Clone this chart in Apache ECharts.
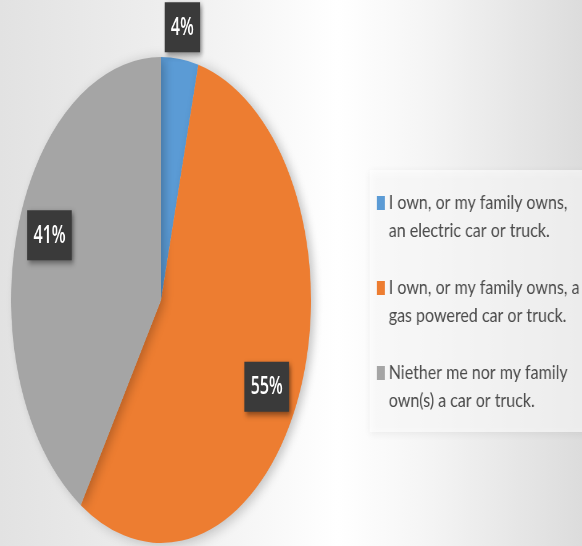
<!DOCTYPE html>
<html>
<head>
<meta charset="utf-8">
<script src="https://cdn.jsdelivr.net/npm/echarts@6/dist/echarts.min.js"></script>
<style>
  html, body { margin: 0; padding: 0; width: 582px; height: 546px; overflow: hidden; }
  body {
    background: linear-gradient(90deg, #e2e2e2 0%, #efefef 30%, #ffffff 58%, #f6f6f6 72%, #dcdcdc 100%);
    position: relative;
  }
  /* the pie is drawn round and then squeezed horizontally into an ellipse */
  #pie { position: absolute; left: 0; top: 0; width: 943px; height: 546px;
         transform: scaleX(0.617); transform-origin: 0 0; }
  /* the key uses a milder squeeze so its lettering reads as a condensed face */
  #key { position: absolute; left: 0; top: 0; width: 728px; height: 546px;
         transform: scaleX(0.8); transform-origin: 0 0; }
</style>
</head>
<body>
<div id="key"></div>
<div id="pie"></div>
<script>
// Survey answers: who owns what kind of vehicle
const categories = [
  'I own, or my family owns,\nan electric car or truck.',
  'I own, or my family owns, a\ngas powered car or truck.',
  'Niether me nor my family\nown(s) a car or truck.'
];
const shares = [4, 55, 41];
const sliceColors = ['#5b9bd5', '#ed7d31', '#a5a5a5'];

const slices = categories.map((name, i) => ({ name: name, value: shares[i] }));

// dark value tags sitting on the slices
const tagStyle = {
  show: true,
  position: 'inside',
  formatter: '{c}%',
  color: '#ffffff',
  fontFamily: 'Open Sans',
  fontWeight: 600,
  fontSize: 26,
  lineHeight: 28,
  backgroundColor: '#3a3a3a',
  padding: [11, 10, 11, 10],
  shadowColor: 'rgba(0,0,0,0.45)',
  shadowBlur: 6,
  shadowOffsetX: 3,
  shadowOffsetY: 3
};

// transparent ring whose 'inside' label position carries the tags
function tagLayer(radius, startAngle, visibleIndex) {
  return {
    type: 'pie',
    center: [261, 300],
    radius: radius,
    startAngle: startAngle,
    clockwise: true,
    silent: true,
    avoidLabelOverlap: false,
    itemStyle: { color: 'rgba(0,0,0,0)', borderWidth: 0 },
    emphasis: { disabled: true },
    labelLine: { show: false },
    label: tagStyle,
    data: slices.map((d, i) => ({
      name: d.name,
      value: d.value,
      label: { show: visibleIndex.indexOf(i) >= 0 }
    }))
  };
}

const pieChart = echarts.init(document.getElementById('pie'), null, { renderer: 'canvas' });
pieChart.setOption({
  animation: false,
  color: sliceColors,
  series: [
    {
      type: 'pie',
      center: [261, 300],
      radius: 243,
      startAngle: 90,
      clockwise: true,
      silent: true,
      avoidLabelOverlap: false,
      label: { show: false },
      labelLine: { show: false },
      itemStyle: {
        borderWidth: 0,
        shadowColor: 'rgba(0,0,0,0.22)',
        shadowBlur: 14,
        shadowOffsetX: 6,
        shadowOffsetY: 2
      },
      data: slices
    },
    tagLayer([136, 242], 86.5, [1, 2]),
    tagLayer([250, 294], 90, [0])
  ]
});

const keyChart = echarts.init(document.getElementById('key'), null, { renderer: 'canvas' });
keyChart.setOption({
  animation: false,
  color: sliceColors,
  graphic: [{
    type: 'rect',
    silent: true,
    shape: { x: 462, y: 170, width: 280, height: 262 },
    style: {
      fill: 'rgba(255,255,255,0.6)',
      shadowColor: 'rgba(0,0,0,0.10)',
      shadowBlur: 8,
      shadowOffsetY: 2
    }
  }],
  legend: {
    orient: 'vertical',
    left: 471,
    top: 161,
    padding: 0,
    itemGap: 1,
    itemWidth: 10,
    itemHeight: 14,
    icon: 'rect',
    selectedMode: false,
    data: categories,
    formatter: name => '\n' + name,
    textStyle: {
      fontFamily: 'Lato',
      fontSize: 20,
      lineHeight: 28,
      color: '#4a4a4a'
    }
  },
  series: [{
    type: 'pie',
    radius: [0, 0],
    center: [-100, -100],
    silent: true,
    label: { show: false },
    labelLine: { show: false },
    data: slices
  }]
});
</script>
</body>
</html>
